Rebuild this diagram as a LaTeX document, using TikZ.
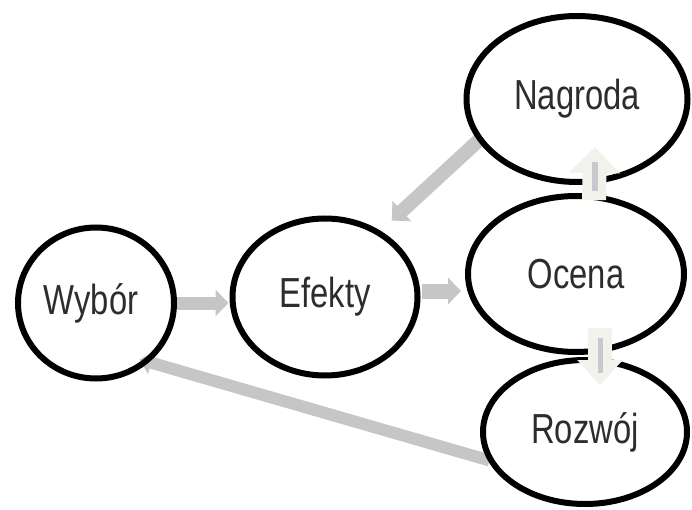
\documentclass[tikz,border=0pt]{standalone}
\usepackage{fontspec}
\newfontfamily\lbl[FakeStretch=0.78]{Liberation Sans}
\usetikzlibrary{shapes.geometric,arrows.meta,backgrounds}
\definecolor{arrowgray}{RGB}{198,198,198}
\definecolor{creamfill}{RGB}{242,242,236}
\definecolor{innergray}{RGB}{200,200,206}
\definecolor{textgray}{RGB}{45,45,45}
\begin{document}
\begin{tikzpicture}[x=1pt,y=-1pt,
  bubble/.style={ellipse,draw=black,line width=6pt,inner sep=0pt,
    font=\lbl\fontsize{42}{50}\selectfont,text=textgray},
  garrow/.style={draw=arrowgray,line width=#1},
  cream/.style={draw=creamfill,line width=24pt},
  inner/.style={draw=innergray,line width=5.5pt}]
\useasboundingbox (0,0) rectangle (692,510);
\node[bubble,minimum width=156pt,minimum height=151pt] (wy) at (96,303) {\hspace*{-10pt}Wybór};
\node[bubble,minimum width=185pt,minimum height=157pt] (ef) at (325,297) {Efekty};
\node[bubble,minimum width=221pt,minimum height=166pt] (nag) at (577,99) {Nagroda};
\node[bubble,minimum width=216pt,minimum height=156pt] (oc) at (576,274) {Ocena};
\node[bubble,minimum width=204pt,minimum height=144pt] (roz) at (585,432) {Rozwój};
\begin{scope}[on background layer]
  \draw[garrow=13pt,-{Triangle[length=13pt,width=26pt]},shorten >=1pt]
    (wy.east) -- (wy.east -| ef.west);
  \draw[garrow=15pt,-{Triangle[length=13pt,width=26pt]},shorten >=4pt,shorten <=1pt]
    ([yshift=6pt]ef.east) -- ([yshift=6pt]ef.east -| oc.west);
  \draw[garrow=14pt,-{Triangle[length=14pt,width=27pt]},shorten >=15pt,shorten <=-3pt]
    (nag.203) -- (ef.50);
  \draw[garrow=12pt,-{Triangle[length=12pt,width=23pt]},shorten >=-10pt,shorten <=-2pt]
    (roz.196) -- (wy.-48.6);
\end{scope}
\draw[cream,-{Triangle[length=26pt,width=50pt]}]
  ([xshift=18pt,yshift=-7pt]oc.north) -- ([xshift=18pt,yshift=-48pt]nag.center);
\draw[inner] ([xshift=19pt,yshift=2pt]oc.north) -- ([xshift=18pt,yshift=-63pt]nag.center);
\draw[cream,-{Triangle[length=25pt,width=44pt]}]
  ([xshift=24pt,yshift=27.5pt]oc.south) -- ([xshift=15pt,yshift=47pt]roz.center);
\draw[inner] ([xshift=24.5pt,yshift=17.5pt]oc.south) -- ([xshift=15.5pt,yshift=59pt]roz.center);
\end{tikzpicture}
\end{document}
